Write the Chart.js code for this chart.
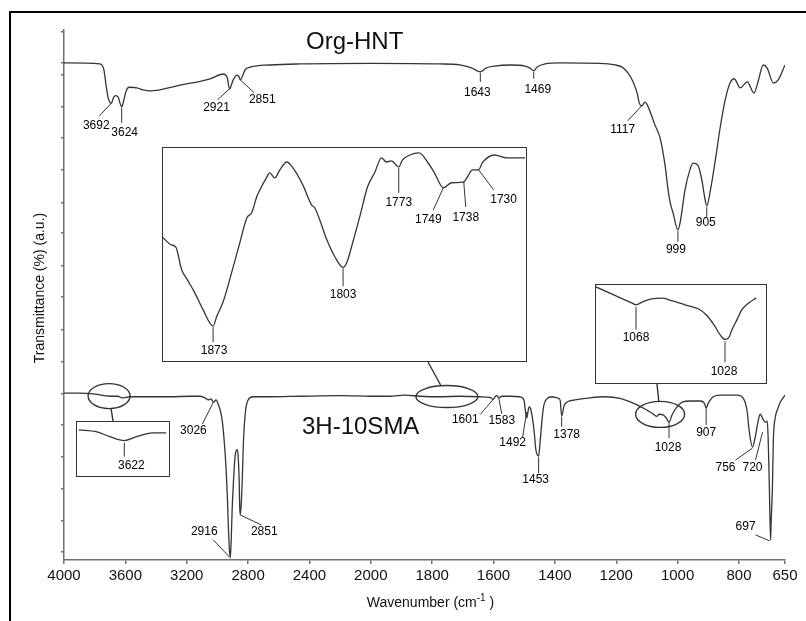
<!DOCTYPE html>
<html>
<head>
<meta charset="utf-8">
<title>FTIR spectra</title>
<script src="https://cdn.jsdelivr.net/npm/chart.js@4.4.1/dist/chart.umd.min.js"></script>
<style>
  html, body { margin: 0; padding: 0; background: #fff; overflow: hidden; }
  #wrap { position: relative; width: 806px; height: 621px; overflow: hidden; }
  #frame { position: absolute; left: 9px; top: 11px; width: 900px; height: 700px; border: 2px solid #000; }
  #main { position: absolute; left: 0; top: 0; }
  .inset { position: absolute; border: 1.5px solid #333; background: #fff; box-sizing: border-box; }
  .inset canvas { display: block; }
</style>
</head>
<body>
<div id="wrap">
  <div id="frame"></div>
  <canvas id="main" width="806" height="621"></canvas>
  <div class="inset" id="boxC"><canvas id="insetC"></canvas></div>
  <div class="inset" id="boxSi"><canvas id="insetSi"></canvas></div>
  <div class="inset" id="boxOH"><canvas id="insetOH"></canvas></div>
</div>
<script>
// Org-HNT spectrum (wavenumber, transmittance a.u.)
const orgWave = [4000,3765,3740,3726,3712,3692,3675,3660,3645,3635,3624,3610,3595,3575,3524,3485,3439,3243,3047,2963,2936,2921,2897,2871,2858,2851,2819,2786,2656,2460,
  2000,1775,1710,1670,1643,1625,1596,1546,1497,1481,1469,1458,1432,1383,1253,1204,1181,1162,1145,1132,1125,1117,1106,1096,1074,1057,1041,1031,1024,1015,
  999,992,976,960,950,934,921,912,905,893,877,861,845,829,816,796,773,751,738,721,708,688,672,650];
const orgT = [93.8,93.6,92.5,89.6,87.2,86.2,87.4,87.6,87.2,86.2,85.5,86.8,88.5,89.2,89.1,88.7,88.5,89.6,90.8,91.7,91.0,88.9,90.6,91.5,91.1,90.6,92.5,93.0,93.4,93.6,
  93.7,93.6,93.4,92.8,92.1,92.8,93.2,93.4,93.2,92.8,92.3,93.0,93.6,93.8,93.7,93.4,93.0,91.9,90.2,88.1,86.2,85.7,86.4,85.5,82.1,79.6,74.5,69.8,67.4,65.5,
  62.3,63.6,69.8,73.6,74.9,74.5,71.7,68.5,66.8,69.8,75.5,81.7,86.8,90.0,90.8,89.1,90.2,88.1,90.2,93.4,92.8,90.0,90.6,93.4];

// 3H-10SMA spectrum
const smaWave = [4000,3896,3798,3700,3648,3622,3569,3439,3308,3178,3113,3080,3060,3041,3026,3008,2995,2982,2969,2956,2943,2936,2930,2923,2916,2910,2904,2897,2884,2871,
  2865,2858,2855,2851,2845,2838,2830,2822,2813,2800,2767,2656,2460,2199,2000,1938,1889,1840,1775,1710,1644,1612,1601,1595,1589,1583,1573,1546,1514,1501,
  1492,1488,1484,1478,1468,1462,1453,1449,1442,1436,1426,1409,1393,1383,1378,1370,1360,1334,1285,1236,1188,1145,1106,1083,1068,1060,1047,1037,1028,1018,
  1002,985,959,926,913,907,900,884,861,829,806,787,774,767,756,747,737,731,720,714,708,705,701,697,695,691,688,682,675,665,650];
const smaT = [31.5,31.5,31.3,30.9,30.9,30.6,30.8,30.8,30.8,30.9,30.9,30.6,30.2,30.4,29.8,30.2,29.4,28.3,26.4,22.6,17.0,12.6,7.5,2.5,0.4,3.8,9.4,13.8,19.8,20.8,
  19.6,15.1,10.4,8.5,10.4,15.1,22.6,26.4,28.9,30.2,30.8,30.8,30.9,31.0,30.9,30.9,31.1,30.9,30.8,30.9,30.8,30.7,30.3,30.8,31.0,30.6,30.9,30.9,30.8,30.2,
  26.8,27.9,28.9,28.3,24.5,20.8,19.6,21.7,26.4,29.2,30.4,30.8,30.6,30.2,27.2,29.1,29.8,30.2,30.6,30.8,30.5,29.6,28.5,27.7,27.1,27.5,27.4,26.8,26.0,27.4,
  28.9,29.8,30.0,30.0,29.6,28.7,29.6,30.8,31.1,31.1,31.1,30.6,28.3,24.5,21.3,23.2,26.4,27.5,26.4,26.0,26.2,23.2,13.8,3.8,7.5,13.8,22.6,26.8,28.3,29.8,31.1];

// enlarged carbonyl region of 3H-10SMA
const carbWave = [1900,1896,1893,1890,1887,1883,1878.5,1873,1871,1867.7,1863,1858.6,1854.8,1852.2,1849.5,1847.8,1844,1842.5,1839.8,1837,1833.3,1830,1824.7,1820,
  1818.3,1815.6,1811.8,1807.5,1803,1801,1797.8,1794,1789.8,1786,1782.3,1779.6,1777,1773,1771,1767,1762,1757.5,1753.8,1749,1744.6,1738,1736,1733.3,1730,1728,1721.5,1715,1705];
const carbT = [57.7,54.5,53.1,42.7,38.0,31.9,23.9,16.0,20.7,27.2,41.3,55.4,67.1,69.5,77.0,80.3,86.4,88.3,85.9,89.7,93.4,90.6,82.6,73.2,
  71.8,66.2,56.8,48.8,43.7,46.0,55.4,67.6,81.7,88.3,95.3,93.4,93.9,91.1,94.4,96.7,97.7,93.4,88.3,81.2,83.6,84.0,86.4,89.7,89.7,93.0,96.7,95.3,95.3];

// enlarged Si-O region of 3H-10SMA
const siWave = [1086,1078,1070,1068,1065,1061,1056,1053,1050,1046,1043,1040,1036.5,1033,1030,1028,1026,1025,1022.6,1020.4,1017.2,1014];
const siT = [98,89.8,81.6,79.6,82.7,85.7,86.5,84.5,82.7,79.6,77.6,75.5,69.4,59.2,48.0,43.9,46.9,53.1,64.3,74.5,81.6,86.7];

// enlarged O-H region of 3H-10SMA
const ohWave = [3697,3667,3646,3622,3602,3576,3553];
const ohT = [85.2,81.5,72.2,64.8,72.2,79.6,79.6];

const xTickWaves = [4000,3600,3200,2800,2400,2000,1800,1600,1400,1200,1000,800,650];
const yTickVals = [1.5,7.4,13.4,19.4,25.5,31.3,37.4,43.4,49.6,55.5,61.7,67.4,73.6,79.6,85.5,91.5,93.8,99.6];

const FONT = '"Liberation Sans", Arial, sans-serif';
const INK = '#353535';
const AXIS = '#707070';
const LABEL_FONT = '12px ' + FONT;

// the instrument halves the scale below 2000 cm-1
const toU = w => w >= 2000 ? (4000 - w) / 400 : 5 + (2000 - w) / 200;
const same = w => w;

function valueAt(waves, vals, w) {
  for (let i = 0; i < waves.length - 1; i++) {
    if (waves[i] >= w && w >= waves[i + 1]) {
      const t = (waves[i] - w) / (waves[i] - waves[i + 1]);
      return vals[i] + t * (vals[i + 1] - vals[i]);
    }
  }
  return vals[vals.length - 1];
}

// peak labels: leader line [x1,y1,x2,y2] and text centre, both offsets from the curve point
const org = {waves: orgWave, vals: orgT};
const sma = {waves: smaWave, vals: smaT};
const mainPeaks = [
  {s: org, w: 3692, line: [1, -1, -12, 13], at: [-15, 23]},
  {s: org, w: 3624, line: [0, 1, 0, 16], at: [3, 26]},
  {s: org, w: 2921, line: [0, 0, -12, 11], at: [-13, 19]},
  {s: org, w: 2851, line: [0, 0, 14, 13], at: [22, 20]},
  {s: org, w: 1643, line: [0, 1, 0, 10], at: [-3, 21]},
  {s: org, w: 1469, line: [0, 1, 0, 8], at: [4, 19]},
  {s: org, w: 1117, line: [0, 0, -14, 15], at: [-19, 24]},
  {s: org, w: 999, line: [0, 1, 0, 12], at: [-2, 20]},
  {s: org, w: 905, line: [0, 1, 0, 11], at: [-1, 17]},
  {s: sma, w: 3026, line: [0, 0, -11, 22], at: [-20, 29]},
  {s: sma, w: 2916, line: [-1, -1, -17, -18], at: [-26, -26]},
  {s: sma, w: 2851, line: [0, 0, 21, 10], at: [24, 17]},
  {s: sma, w: 1601, line: [0, 0, -13, 15], at: [-28, 20]},
  {s: sma, w: 1583, line: [0, 0, 3, 16], at: [3, 23]},
  {s: sma, w: 1492, line: [0, -6, -4, 19], at: [-14, 25]},
  {s: sma, w: 1453, line: [0, 1, 0, 17], at: [-3, 24]},
  {s: sma, w: 1378, line: [0, 1, 0, 11], at: [5, 19]},
  {s: sma, w: 1028, line: [0, 0, 0, 16], at: [-1, 25]},
  {s: sma, w: 907, line: [0, 0, 0, 17], at: [0, 25]},
  {s: sma, w: 756, line: [0, 1, -17, 13], at: [-27, 21]},
  {s: sma, w: 720, line: [-1, 12, -8, 40], at: [-11, 48]},
  {s: sma, w: 697, line: [-1, 1, -15, -5], at: [-25, -13]}
];
const carb = {waves: carbWave, vals: carbT};
const carbPeaks = [
  {s: carb, w: 1873, line: [0, 1, 0, 16], at: [1, 25]},
  {s: carb, w: 1803, line: [0, 1, 0, 19], at: [0, 27]},
  {s: carb, w: 1773, line: [0, 1, 0, 26], at: [0, 36]},
  {s: carb, w: 1749, line: [0, 0, -10, 22], at: [-15, 32]},
  {s: carb, w: 1738, line: [0, 0, 2, 25], at: [2, 36]},
  {s: carb, w: 1730, line: [0, 0, 15, 20], at: [25, 30]}
];
const si = {waves: siWave, vals: siT};
const siPeaks = [
  {s: si, w: 1068, line: [0, 2, 0, 25], at: [0, 33]},
  {s: si, w: 1028, line: [0, 2, 0, 23], at: [-1, 32]}
];
const oh = {waves: ohWave, vals: ohT};
const ohPeaks = [
  {s: oh, w: 3622, line: [0, 2, 0, 16], at: [7, 25]}
];

// inset boxes [left, top, width, height], zoomed range, and the ring on the lower trace
const insets = [
  {id: 'C', box: [162, 147, 365, 215], range: [1900, 1705], data: carb, peaks: carbPeaks, ring: {w: 1752, rx: 31, ry: 11}, link: {x: 428, edge: 'bottom'}},
  {id: 'Si', box: [595, 284, 172, 100], range: [1086, 1010], data: si, peaks: siPeaks, ring: {w: 1057, rx: 24.5, ry: 13}, link: {x: 657, edge: 'bottom'}},
  {id: 'OH', box: [76, 421, 94, 56], range: [3700, 3550], data: oh, peaks: ohPeaks, ring: {w: 3706, rx: 21, ry: 12.5}, link: {x: 113, edge: 'top'}}
];

function labelPlugin(items, toX) {
  return {
    id: 'peakLabels',
    afterDatasetsDraw(chart) {
      const {ctx, scales: {x, y}} = chart;
      ctx.save();
      ctx.strokeStyle = '#333';
      ctx.lineWidth = 1;
      ctx.fillStyle = '#000';
      ctx.font = LABEL_FONT;
      ctx.textAlign = 'center';
      ctx.textBaseline = 'middle';
      items.forEach(p => {
        const px = x.getPixelForValue(toX(p.w));
        const py = y.getPixelForValue(valueAt(p.s.waves, p.s.vals, p.w));
        ctx.beginPath();
        ctx.moveTo(px + p.line[0], py + p.line[1]);
        ctx.lineTo(px + p.line[2], py + p.line[3]);
        ctx.stroke();
        ctx.fillText(String(p.w), px + p.at[0], py + p.at[1]);
      });
      ctx.restore();
    }
  };
}

const ringPlugin = {
  id: 'rings',
  afterDatasetsDraw(chart) {
    const {ctx, scales: {x, y}} = chart;
    ctx.save();
    ctx.strokeStyle = '#333';
    ctx.lineWidth = 1.4;
    insets.forEach(b => {
      const r = b.ring;
      const cx = x.getPixelForValue(toU(r.w));
      const cy = y.getPixelForValue(valueAt(smaWave, smaT, r.w));
      ctx.beginPath();
      ctx.ellipse(cx, cy, r.rx, r.ry, 0, 0, Math.PI * 2);
      ctx.stroke();
      const lx = b.link.x;
      const ly = b.link.edge === 'bottom' ? b.box[1] + b.box[3] : b.box[1];
      const dx = lx - cx, dy = ly - cy;
      const t = 1 / Math.sqrt((dx / r.rx) ** 2 + (dy / r.ry) ** 2);
      ctx.beginPath();
      ctx.moveTo(cx + dx * t, cy + dy * t);
      ctx.lineTo(lx, ly);
      ctx.stroke();
    });
    ctx.restore();
  }
};

const captionPlugin = {
  id: 'captions',
  afterDraw(chart) {
    const {ctx, chartArea: a} = chart;
    ctx.save();
    ctx.fillStyle = '#111';
    ctx.textBaseline = 'alphabetic';
    ctx.textAlign = 'left';
    ctx.font = '24px ' + FONT;
    ctx.fillText('Org-HNT', a.left + 242, a.top + 19);
    ctx.fillText('3H-10SMA', a.left + 238, a.top + 404);

    // x axis title with superscript
    ctx.font = '14px ' + FONT;
    const part1 = 'Wavenumber (cm';
    const w1 = ctx.measureText(part1).width;
    ctx.font = '10px ' + FONT;
    const w2 = ctx.measureText('-1').width;
    ctx.font = '14px ' + FONT;
    const w3 = ctx.measureText(' )').width;
    let tx = (a.left + a.right) / 2 + 6 - (w1 + w2 + w3) / 2;
    const base = a.bottom + 47;
    ctx.fillText(part1, tx, base);
    tx += w1;
    ctx.font = '10px ' + FONT;
    ctx.fillText('-1', tx, base - 6);
    tx += w2;
    ctx.font = '14px ' + FONT;
    ctx.fillText(' )', tx, base);

    // y axis title
    ctx.translate(40, 288);
    ctx.rotate(-Math.PI / 2);
    ctx.textAlign = 'center';
    ctx.textBaseline = 'middle';
    ctx.fillText('Transmittance (%) (a.u.)', 0, 0);
    ctx.restore();
  }
};

const toPoints = (waves, vals, fx) => waves.map((w, i) => ({x: fx(w), y: vals[i]}));

new Chart(document.getElementById('main'), {
  type: 'line',
  data: {
    datasets: [
      {label: 'Org-HNT', data: toPoints(orgWave, orgT, toU)},
      {label: '3H-10SMA', data: toPoints(smaWave, smaT, toU)}
    ]
  },
  options: {
    responsive: false,
    animation: false,
    layout: {padding: {top: 30, right: 21, bottom: 0, left: 0}},
    plugins: {legend: {display: false}, tooltip: {enabled: false}},
    elements: {
      point: {radius: 0},
      line: {borderWidth: 1.3, borderColor: INK, cubicInterpolationMode: 'monotone', fill: false}
    },
    scales: {
      x: {
        type: 'linear',
        min: 0,
        max: toU(650),
        afterBuildTicks: s => { s.ticks = xTickWaves.map(w => ({value: toU(w)})); },
        afterFit: s => { s.height = 61; },
        ticks: {
          autoSkip: false, maxRotation: 0, padding: 3, color: '#111',
          font: {size: 15, family: FONT},
          callback: (v, i) => xTickWaves[i]
        },
        grid: {drawOnChartArea: false, tickLength: 4, color: AXIS, lineWidth: 1.5},
        border: {color: AXIS, width: 1.5}
      },
      y: {
        min: 0,
        max: 100,
        afterBuildTicks: s => { s.ticks = yTickVals.map(v => ({value: v})); },
        afterFit: s => { s.width = 64; },
        ticks: {display: false},
        grid: {drawOnChartArea: false, tickLength: 3, color: AXIS, lineWidth: 1.5},
        border: {color: AXIS, width: 1.5}
      }
    }
  },
  plugins: [ringPlugin, labelPlugin(mainPeaks, toU), captionPlugin]
});

insets.forEach(b => {
  const div = document.getElementById('box' + b.id);
  div.style.left = b.box[0] + 'px';
  div.style.top = b.box[1] + 'px';
  div.style.width = b.box[2] + 'px';
  div.style.height = b.box[3] + 'px';
  const cv = document.getElementById('inset' + b.id);
  cv.width = b.box[2] - 3;
  cv.height = b.box[3] - 3;
  new Chart(cv, {
    type: 'line',
    data: {datasets: [{data: toPoints(b.data.waves, b.data.vals, same)}]},
    options: {
      responsive: false,
      animation: false,
      layout: {padding: 0},
      plugins: {legend: {display: false}, tooltip: {enabled: false}},
      elements: {
        point: {radius: 0},
        line: {borderWidth: 1.3, borderColor: INK, cubicInterpolationMode: 'monotone', fill: false}
      },
      scales: {
        x: {type: 'linear', min: b.range[1], max: b.range[0], reverse: true, display: false},
        y: {min: 0, max: 100, display: false}
      }
    },
    plugins: [labelPlugin(b.peaks, same)]
  });
});
</script>
</body>
</html>
